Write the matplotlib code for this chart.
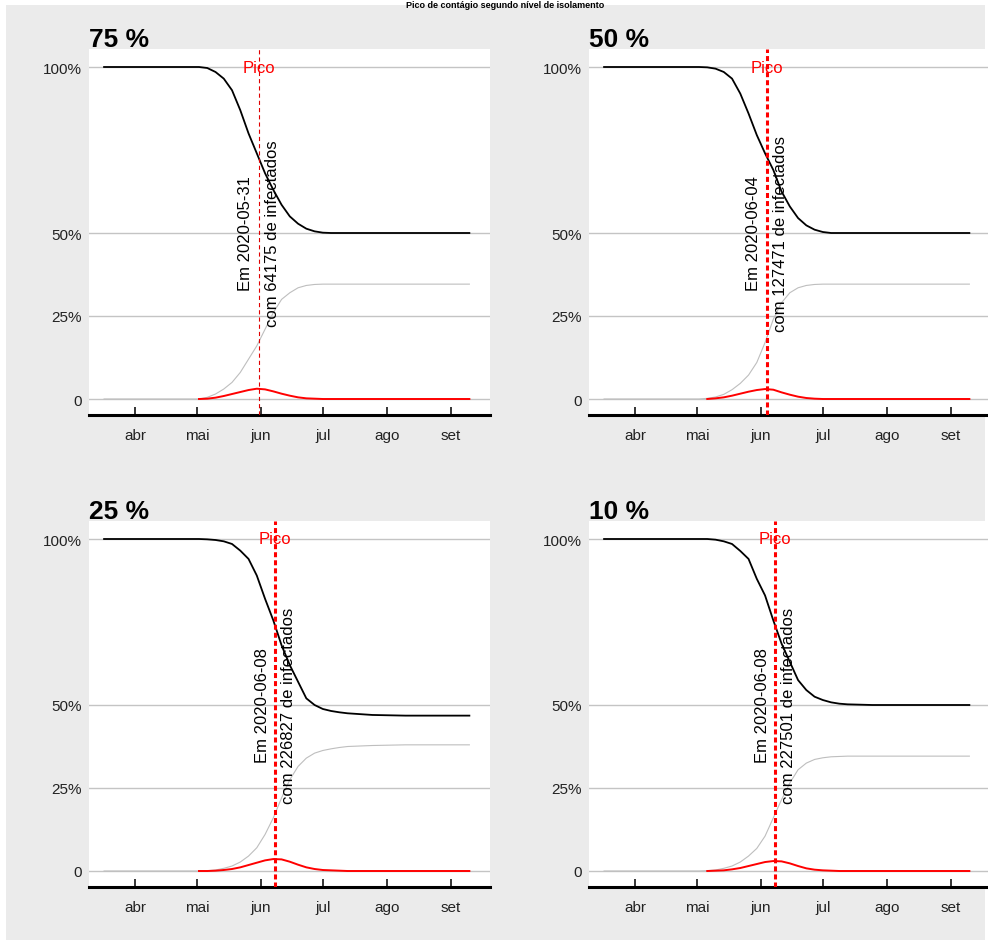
import numpy as np
import pandas as pd
import matplotlib
matplotlib.use('Agg')
import matplotlib.pyplot as plt
import matplotlib.dates as mdates
from matplotlib.patches import Rectangle

plt.rcParams['font.family'] = ['Liberation Sans', 'DejaVu Sans']
plt.rcParams['lines.scale_dashes'] = False

nan = np.nan

# datas comuns das curvas
dates = ["2020-03-17", "2020-05-02", "2020-05-06", "2020-05-10", "2020-05-14", "2020-05-18",
         "2020-05-22", "2020-05-26", "2020-05-30", "2020-06-03", "2020-06-07", "2020-06-11",
         "2020-06-15", "2020-06-19", "2020-06-23", "2020-06-27", "2020-07-01", "2020-07-05",
         "2020-07-09", "2020-07-13", "2020-07-25", "2020-08-10", "2020-09-10"]

# 75 %
s_75 = [1.0, 1.0, 0.997, 0.985, 0.965, 0.93, 0.87, 0.80, 0.74, 0.68, 0.63, 0.585, 0.55,
        0.528, 0.513, 0.505, 0.501, 0.50, 0.50, 0.50, 0.50, 0.50, 0.50]
r_75 = [0, 0, 0.005, 0.015, 0.03, 0.05, 0.08, 0.12, 0.16, 0.21, 0.26, 0.30, 0.32, 0.335,
        0.342, 0.345, 0.346, 0.346, 0.346, 0.346, 0.346, 0.346, 0.346]
i_75 = [nan, 0, 0.001, 0.004, 0.009, 0.015, 0.021, 0.027, 0.031, 0.029, 0.023, 0.016, 0.010,
        0.005, 0.002, 0.001, 0, 0, 0, 0, 0, 0, 0]

# 50 %
s_50 = [1.0, 1.0, 0.999, 0.995, 0.985, 0.965, 0.92, 0.86, 0.795, 0.74, 0.69, 0.625, 0.58,
        0.545, 0.523, 0.51, 0.503, 0.50, 0.50, 0.50, 0.50, 0.50, 0.50]
r_50 = [0, 0, 0.002, 0.006, 0.014, 0.028, 0.047, 0.072, 0.11, 0.17, 0.24, 0.29, 0.32, 0.335,
        0.342, 0.345, 0.346, 0.346, 0.346, 0.346, 0.346, 0.346, 0.346]
i_50 = [nan, nan, 0, 0.002, 0.005, 0.010, 0.016, 0.022, 0.027, 0.030, 0.028, 0.020, 0.013,
        0.007, 0.003, 0.001, 0, 0, 0, 0, 0, 0, 0]

# 25 %
s_25 = [1.0, 1.0, 0.999, 0.997, 0.993, 0.985, 0.965, 0.94, 0.89, 0.82, 0.755, 0.68, 0.62,
        0.57, 0.52, 0.50, 0.488, 0.482, 0.478, 0.475, 0.47, 0.468, 0.468]
r_25 = [0, 0, 0.001, 0.003, 0.008, 0.015, 0.027, 0.045, 0.07, 0.11, 0.16, 0.22, 0.275, 0.315,
        0.34, 0.355, 0.363, 0.368, 0.372, 0.375, 0.378, 0.38, 0.38]
i_25 = [nan, 0, 0, 0.001, 0.003, 0.006, 0.011, 0.018, 0.025, 0.032, 0.036, 0.035, 0.028,
        0.019, 0.011, 0.006, 0.003, 0.002, 0.001, 0, 0, 0, 0]

# 10 %
s_10 = [1.0, 1.0, 1.0, 0.998, 0.993, 0.985, 0.964, 0.94, 0.88, 0.83, 0.755, 0.685, 0.63,
        0.575, 0.545, 0.525, 0.515, 0.508, 0.504, 0.502, 0.50, 0.50, 0.50]
r_10 = [0, 0, 0.001, 0.003, 0.008, 0.015, 0.027, 0.045, 0.068, 0.105, 0.16, 0.215, 0.265,
        0.305, 0.325, 0.336, 0.341, 0.344, 0.345, 0.346, 0.346, 0.346, 0.346]
i_10 = [nan, nan, 0, 0.001, 0.002, 0.005, 0.009, 0.015, 0.021, 0.027, 0.030, 0.029, 0.023,
        0.015, 0.008, 0.004, 0.002, 0.001, 0, 0, 0, 0, 0]

scenarios = ["75 %", "50 %", "25 %", "10 %"]
peak_dates = ["2020-05-31", "2020-06-04", "2020-06-08", "2020-06-08"]
peak_counts = [64175, 127471, 226827, 227501]
month_ticks = ["2020-04-01", "2020-05-01", "2020-06-01", "2020-07-01", "2020-08-01", "2020-09-01"]
month_labels = ["abr", "mai", "jun", "jul", "ago", "set"]
ytick_vals = [0, 0.25, 0.5, 1.0]
ytick_labels = ["0", "25%", "50%", "100%"]
title = "Pico de contágio segundo nível de isolamento"

series = [(s_75, r_75, i_75), (s_50, r_50, i_50), (s_25, r_25, i_25), (s_10, r_10, i_10)]

W, H = 988, 945
fig = plt.figure(figsize=(W / 100, H / 100), dpi=100)
fig.patch.set_facecolor('white')
fig.add_artist(Rectangle((6 / W, 1 - 941 / H), (985 - 6) / W, (941 - 6) / H,
                         transform=fig.transFigure, facecolor='#EBEBEB',
                         edgecolor='none', zorder=-5))

# titulo geral, quase todo escondido no topo da figura original
fig.text(0.511, 1 - 1 / H, title, ha='center', va='top', fontsize=6.5,
         fontweight='bold')

def to_num(lst):
    return mdates.date2num(pd.to_datetime(lst).to_pydatetime())

x = to_num(dates)
jun1 = to_num(["2020-06-01"])[0]
panel_px = [(89, 416), (589, 416), (89, 888), (589, 888)]

for k in range(4):
    left, bottom = panel_px[k]
    ax = fig.add_axes([left / W, 1 - bottom / H, 401 / W, 366 / H])
    ax.set_facecolor('white')
    s, r, inf = series[k]
    ax.plot(x, r, color='#BEBEBE', lw=0.8, zorder=3)
    ax.plot(x, inf, color='red', lw=1.4, zorder=4)
    ax.plot(x, s, color='black', lw=1.3, zorder=5)

    pk = to_num([peak_dates[k]])[0]
    if k == 0:
        ax.axvline(pk, color='#E00000', lw=0.8, dashes=(3, 2.2), zorder=6)
    else:
        ax.axvline(pk, color='red', lw=2.2, dashes=(3.6, 2.2), zorder=6)

    ax.text(pk, 1.0, 'Pico', color='red', ha='center', va='center', fontsize=12, zorder=7)
    ax.text(pk, 0.5, f'Em {peak_dates[k]}\ncom {peak_counts[k]} de infectados',
            rotation=90, ha='center', va='center', multialignment='center',
            fontsize=12, linespacing=1.95, zorder=7)

    ax.text(0, 1 + 3 / 366, scenarios[k], transform=ax.transAxes, ha='left',
            va='baseline', fontsize=19, fontweight='bold')

    ax.set_ylim(-16 / 332, 1 + 18 / 332)
    ax.set_xlim(jun1 - 83.3, jun1 + 111)
    ax.set_yticks(ytick_vals)
    ax.set_yticklabels(ytick_labels)
    ax.set_xticks(to_num(month_ticks))
    ax.set_xticklabels(month_labels)
    ax.yaxis.grid(True, color='#C4C4C4', lw=1.0)
    ax.xaxis.grid(False)
    ax.set_axisbelow(True)
    for side in ['top', 'left', 'right']:
        ax.spines[side].set_visible(False)
    ax.spines['bottom'].set_linewidth(2.2)
    ax.spines['bottom'].set_color('black')
    ax.tick_params(axis='x', direction='in', length=5.8, width=1.1, pad=9.5,
                   labelsize=11, labelcolor='#222222')
    ax.tick_params(axis='y', length=0, pad=5, labelsize=11, labelcolor='#222222')

fig.savefig('out.png', dpi=100)
